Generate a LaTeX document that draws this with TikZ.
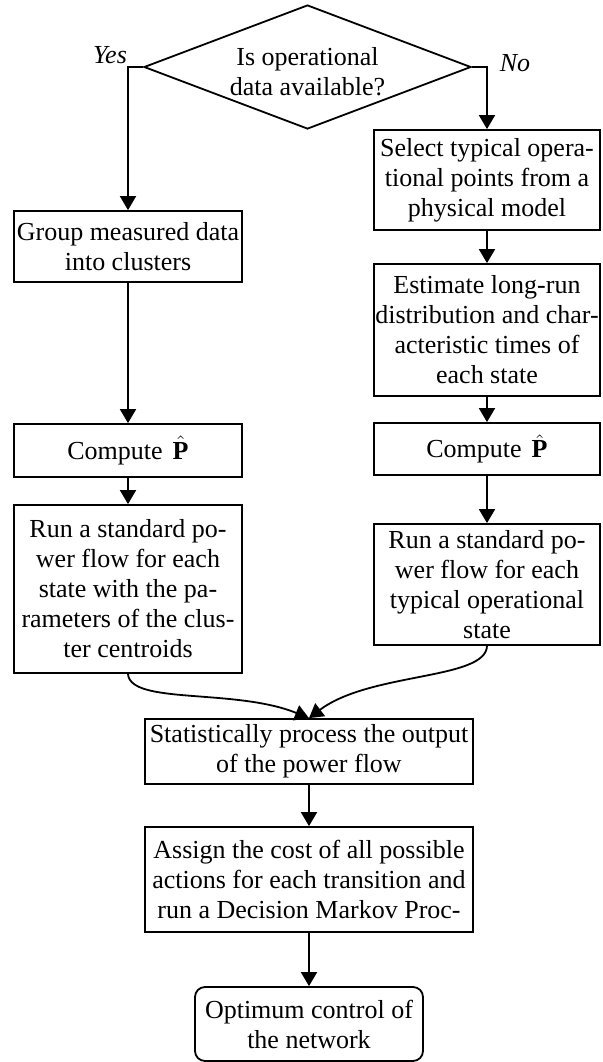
\documentclass[tikz,border=0pt]{standalone}
\usepackage{fontspec}
\setmainfont{Liberation Serif}
\usetikzlibrary{shapes.geometric,arrows.meta}
\begin{document}
\begin{tikzpicture}[x=0.5pt,y=-0.5pt,
  every node/.style={font=\fontsize{13pt}{15pt}\selectfont, align=center},
  box/.style={draw, line width=0.9pt, inner sep=0pt},
  arr/.style={line width=0.9pt, -{Triangle[width=8pt,length=7pt]}},
  lbl/.style={font=\fontsize{13pt}{15pt}\selectfont\itshape}]
\useasboundingbox (0,0) rectangle (603,1062);
\node[box, shape=diamond, shape aspect=2.64, minimum width=163.5pt, minimum height=62pt] (dia) at (307.5,67) {};
\node (diatext) at (307.5,72) {Is operational\\data available?};
\node[lbl] (yes) at (110,55) {Yes};
\node[lbl] (no) at (515,63) {No};
\node[box, minimum width=114pt, minimum height=35.5pt] (group) at (128,246.5) {Group measured data\\into clusters};
\node[box, minimum width=114pt, minimum height=26.5pt] (computeL) at (128,450.5) {Compute\hspace{5pt}$\hat{\mbox{\textbf{P}}}$};
\node[box, minimum width=114pt, minimum height=84pt] (runL) at (128,589) {Run a standard po-\\wer flow for each\\state with the pa-\\rameters of the clus-\\ter centroids};
\node[box, minimum width=113pt, minimum height=50pt] (select) at (487,180) {Select typical opera-\\tional points from a\\physical model};
\node[box, minimum width=113pt, minimum height=66pt] (estimate) at (487,330) {Estimate long-run\\distribution and char-\\acteristic times of\\each state};
\node[box, minimum width=113pt, minimum height=26pt] (computeR) at (487,449) {Compute\hspace{5pt}$\hat{\mbox{\textbf{P}}}$};
\node[box, minimum width=113pt, minimum height=60.5pt] (runR) at (487,584.5) {Run a standard po-\\wer flow for each\\typical operational\\state};
\node[box, minimum width=164pt, minimum height=32.5pt] (stat) at (309,751.5) {Statistically process the output\\of the power flow};
\node[box, minimum width=164pt, minimum height=52.5pt] (assign) at (309,879.5) {Assign the cost of all possible\\actions for each transition and\\run a Decision Markov Proc-};
\node[box, rounded corners=5pt, minimum width=114pt, minimum height=37pt] (opt) at (309,1024) {Optimum control of\\the network};
\draw[arr] (dia.west) -| (group.north);
\draw[arr] (dia.east) -| (select.north);
\draw[arr] (group) -- (computeL);
\draw[arr] (computeL) -- (runL);
\draw[arr] (select) -- (estimate);
\draw[arr] (estimate) -- (computeR);
\draw[arr] (computeR) -- (runR);
\draw[arr] (runL.south) .. controls (130,705) and (235,688) .. (stat.north);
\draw[arr] (runR.south) .. controls (486,680) and (370,672) .. (stat.north);
\draw[arr] (stat) -- (assign);
\draw[arr] (assign) -- (opt);
\end{tikzpicture}
\end{document}
